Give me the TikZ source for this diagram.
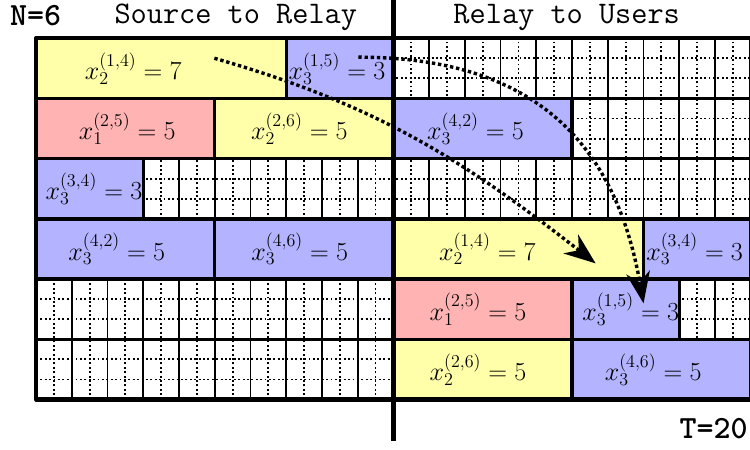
\documentclass[tikz,border=0pt]{standalone}
\usetikzlibrary{arrows.meta}
\definecolor{cyel}{RGB}{255,255,170}
\definecolor{cpink}{RGB}{255,179,179}
\definecolor{cblue}{RGB}{179,179,255}
\begin{document}
\begin{tikzpicture}[line join=round, >={Stealth[length=25pt,width=19pt,inset=8pt]},
	blk/.style={draw=black, line width=2.6pt},
	lab/.style={inner sep=0pt, font=\huge},
	dotgrid/.style={line width=1.5pt, dash pattern=on 1.5pt off 2pt},
	ttl/.style={inner sep=0pt, font=\fontsize{25}{30}\selectfont\ttfamily},
	bttl/.style={inner sep=0pt, font=\fontsize{25.8}{30}\selectfont\ttfamily\bfseries},
	flow/.style={->, line width=2.7pt, dash pattern=on 2.7pt off 2.2pt}]
	% Khung ảnh
	\useasboundingbox (-1.008,-1.40) rectangle (19.98,11.18);
	\def\h{1.685}
	
	% Lưới chấm
	\foreach \r in {0,...,5}
	\foreach \k in {1,2}
	\draw[dotgrid] (0,{(\r+\k/3)*\h}) -- (20,{(\r+\k/3)*\h});
	\foreach \x in {0,...,19}
	\draw[dotgrid] (\x+0.5,0) -- (\x+0.5,6*\h);
	
	% Lưới liền
	\foreach \x in {1,...,19}
	\draw[line width=1.4pt] (\x,0) -- (\x,6*\h);
	\foreach \r in {1,...,5}
	\draw[line width=2.6pt] (0,\r*\h) -- (20,\r*\h);
	
	% Các khối
	\foreach \a/\b/\m/\r/\col/\nm/\lbl in {
		0/7/2.72/1/cyel/srA/{x_2^{(1,4)}=7},
		7/10/8.42/1/cblue/srB/{x_3^{(1,5)}=3},
		0/5/2.55/2/cpink/srC/{x_1^{(2,5)}=5},
		5/10/7.37/2/cyel/srD/{x_2^{(2,6)}=5},
		0/3/1.62/3/cblue/srE/{x_3^{(3,4)}=3},
		0/5/2.26/4/cblue/srF/{x_3^{(4,2)}=5},
		5/10/7.38/4/cblue/srG/{x_3^{(4,6)}=5},
		10/15/12.3/2/cblue/ruA/{x_3^{(4,2)}=5},
		10/17/12.63/4/cyel/ruB/{x_2^{(1,4)}=7},
		17/20/18.43/4/cblue/ruC/{x_3^{(3,4)}=3},
		10/15/12.37/5/cpink/ruD/{x_1^{(2,5)}=5},
		15/18/16.64/5/cblue/ruE/{x_3^{(1,5)}=3},
		10/15/12.37/6/cyel/ruF/{x_2^{(2,6)}=5},
		15/20/17.27/6/cblue/ruG/{x_3^{(4,6)}=5}}
	{
		\filldraw[blk, fill=\col] (\a,{(6-\r)*\h}) rectangle (\b,{(7-\r)*\h});
		\node[lab] (\nm) at (\m,{(6.5-\r)*\h}) {$\lbl$};
	}
	
	% Viền ngoài và đường chia
	\draw[line width=3.4pt] (0,0) rectangle (20,6*\h);
	\draw[line width=4.2pt] (10,-1.15) -- (10,11.4);
	
	% Nhãn
	\node[bttl, anchor=base west] (nN) at (-0.73,10.48) {N=6};
	\node[ttl, anchor=base] (tsr) at (5.59,10.52) {Source to Relay};
	\node[ttl, anchor=base] (tru) at (14.85,10.52) {Relay to Users};
	\node[bttl, anchor=base east] (nT) at (19.92,-1.09) {T=20};
	
	% Mũi tên
	\coordinate (s1) at (4.99,9.55);
	\coordinate (e1) at (15.66,3.81);
	\coordinate (s2) at (9.02,9.58);
	\coordinate (e2) at (17.0,2.69);
	\draw[flow] (s1) to[out=-16, in=142] (e1);
	\draw[flow] (s2) to[out=0, in=100, looseness=1.15] (e2);
\end{tikzpicture}
\end{document}
